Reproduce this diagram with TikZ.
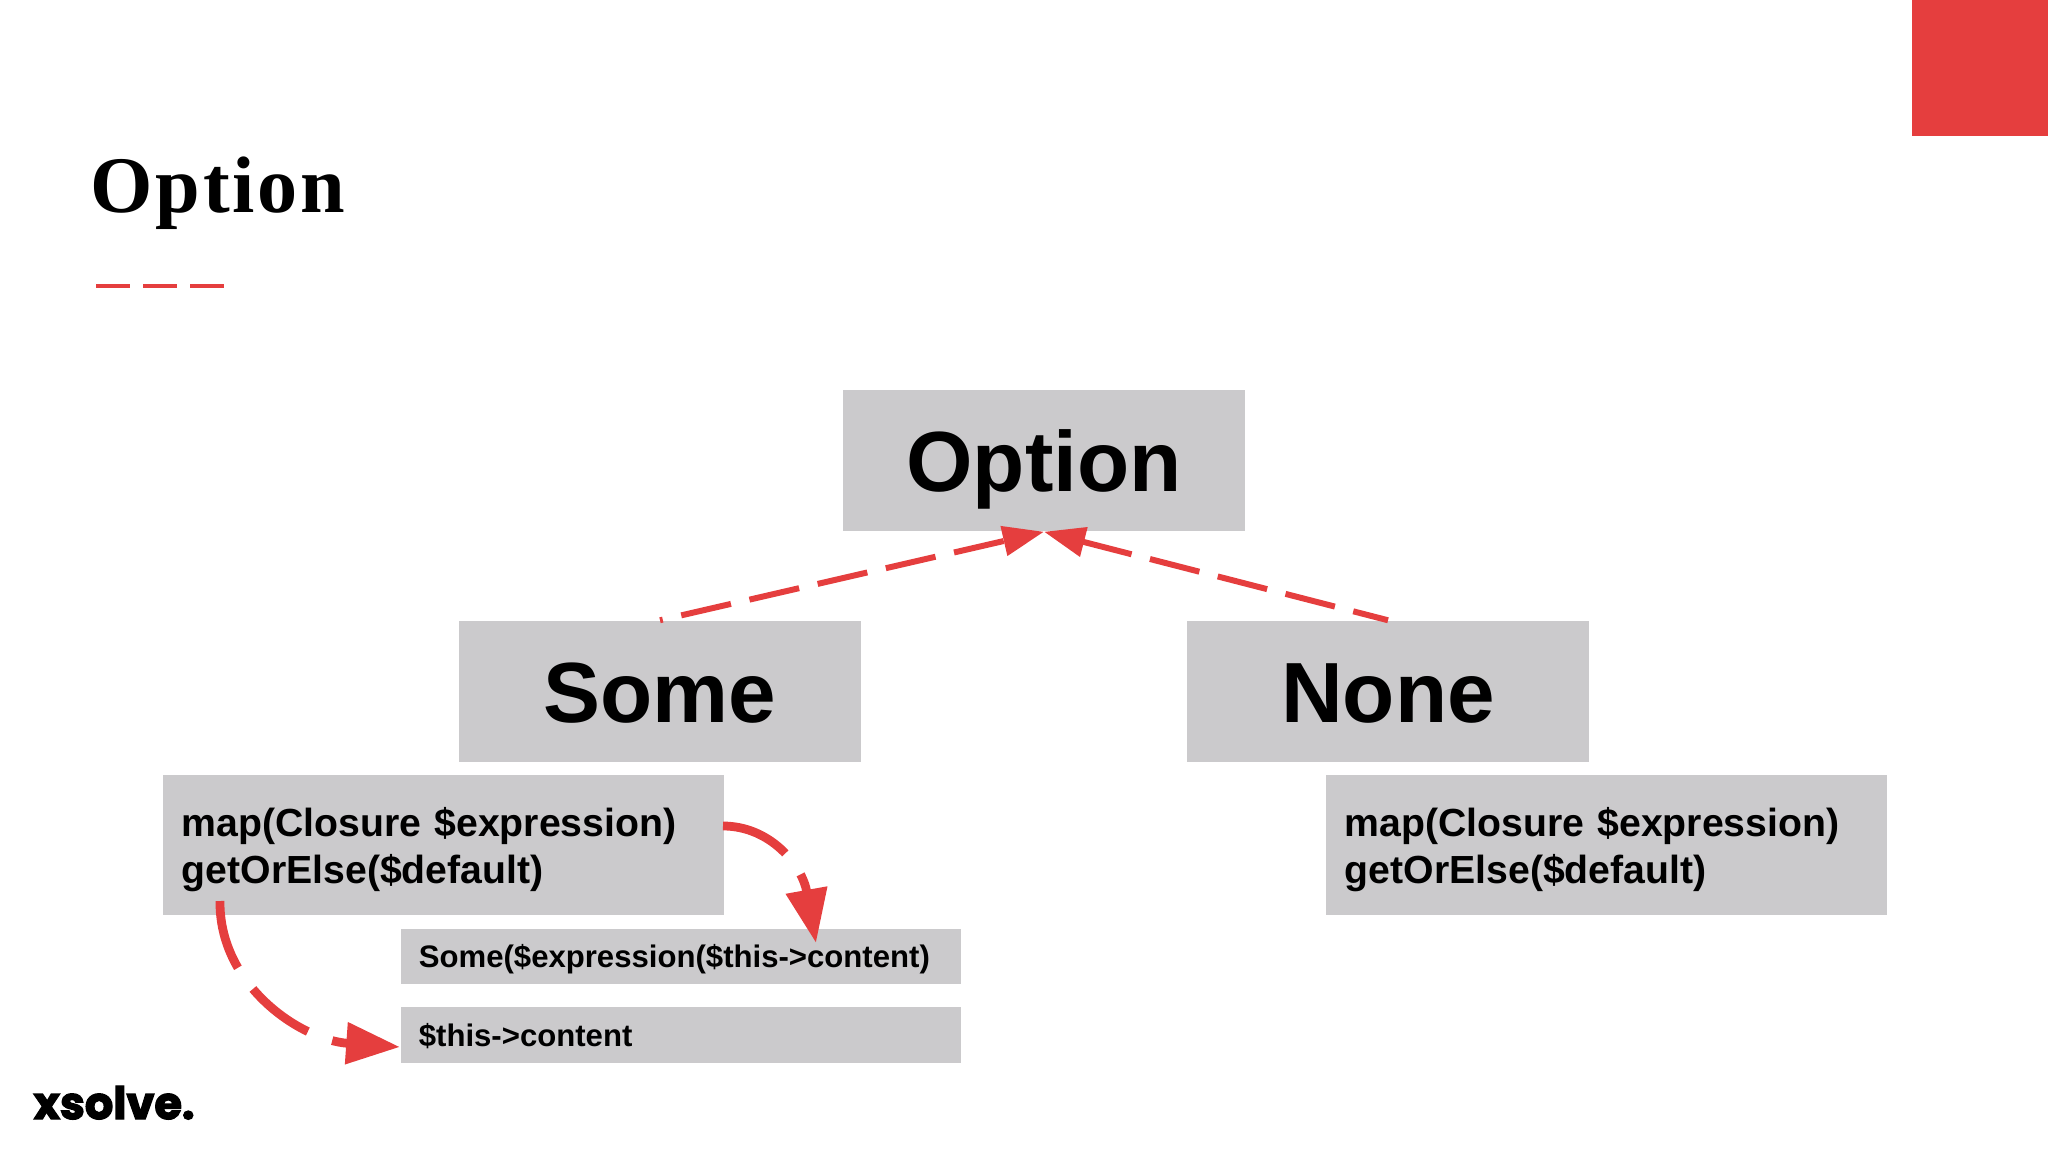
\documentclass[tikz,border=0pt]{standalone}
\usepackage{fontspec}
\setmainfont{Liberation Sans}
\newfontfamily\titlefont[LetterSpace=3.5]{Liberation Serif}
\newfontfamily\logofont[BoldFeatures={FakeBold=3}]{Poppins}
\usetikzlibrary{arrows.meta}
\definecolor{xsred}{HTML}{E53E3E}
\definecolor{boxgrey}{HTML}{CBCACC}

\begin{document}
\begin{tikzpicture}[
    x=0.01cm, y=-0.01cm,
    classbox/.style={fill=boxgrey, minimum width=4.02cm, minimum height=1.41cm, inner sep=0pt,
        text height=17.8pt, text depth=0pt, font=\fontsize{24.3}{28}\selectfont\bfseries},
    methodbox/.style={fill=boxgrey, text width=5.23cm, minimum height=1.40cm, inner xsep=0.19cm, inner ysep=0pt,
        align=left, execute at begin node={\rule{0pt}{10.7pt}}, font=\fontsize{11.15}{13.3}\selectfont\bfseries},
    callbox/.style={fill=boxgrey, text width=5.24cm, minimum height=0.55cm, inner xsep=0.18cm, inner ysep=0pt,
        align=left, text height=6.5pt, text depth=0pt, font=\fontsize{8.85}{11}\selectfont\bfseries},
    inherit/.style={draw=xsred, line width=1.7pt, -{Triangle[length=11.7pt, width=8.3pt]}},
    flow/.style={draw=xsred, line width=2.5pt, dash pattern=on 19.9pt off 7.4pt,
        -{Triangle[length=15.3pt, width=11.4pt]}}
]
	\useasboundingbox (0,0) rectangle (2048,1152);

	\fill[xsred] (1912,0) rectangle (2048,136);
	\node[anchor=base west, inner sep=0pt, font=\fontsize{22.8}{28}\selectfont\titlefont\bfseries] (title) at (90,213) {Option};
	\draw[xsred, line width=1.35pt, dash pattern=on 9.67pt off 3.7pt] (96,286) -- (224,286);

	\node[classbox] (option) at (1044,460.5) {Option};
	\node[classbox] (some) at (660,691.5) {Some};
	\node[classbox] (none) at (1388,691.5) {None};

	\node[methodbox] (mapsome) at (443.5,845) {map(Closure \$expression)\\getOrElse(\$default)};
	\node[methodbox] (mapnone) at (1606.5,845) {map(Closure \$expression)\\getOrElse(\$default)};
	\node[callbox] (somecall) at (681,956.5) {Some(\$expression(\$this->content)};
	\node[callbox] (thiscall) at (681,1035) {\$this->content};

	\coordinate (someout) at (723,826);
	\coordinate (somein) at (816,943);
	\coordinate (elseout) at (220,901);
	\coordinate (thisin) at (400,1047);

	\draw[inherit, dash pattern=on 14.5pt off 5.4pt, dash phase=13.7pt] (some.north) -- (option.south);
	\draw[inherit, dash pattern=on 14.5pt off 5.4pt, dash phase=4.3pt] (none.north) -- (option.south);
	\draw[flow] (someout) .. controls (770,826) and (802,865) .. (somein);
	\draw[flow] (elseout) .. controls (219,985) and (300,1040) .. (thisin);

	\node[anchor=base west, inner sep=0pt, font=\fontsize{12.7}{14}\selectfont\logofont\bfseries] (logo) at (33,1119) {xsolve.};
\end{tikzpicture}
\end{document}
